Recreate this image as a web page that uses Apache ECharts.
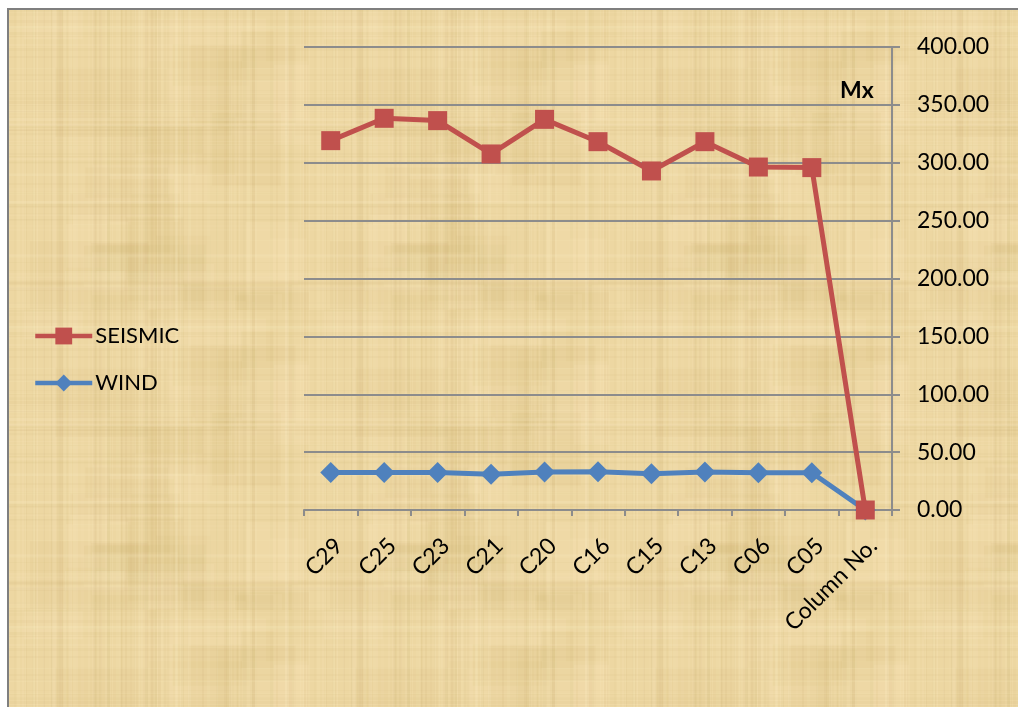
<!DOCTYPE html>
<html>
<head>
<meta charset="utf-8">
<script src="https://cdn.jsdelivr.net/npm/echarts@6/dist/echarts.min.js"></script>
<style>
  html, body { margin: 0; padding: 0; background: #ffffff; width: 1018px; height: 707px; overflow: hidden; }
  #frame { position: absolute; left: 7px; top: 8px; width: 1011px; height: 699px;
           border-left: 2px solid #7f7f7f; border-top: 2px solid #7f7f7f; box-sizing: border-box; }
  #chart { width: 1009px; height: 697px; }
</style>
</head>
<body>
<div id="frame"><div id="chart"></div></div>
<script>
// Column labels along the bottom axis
var categories = ['C29', 'C25', 'C23', 'C21', 'C20', 'C16', 'C15', 'C13', 'C06', 'C05', 'Column No.'];
// Moment Mx per column
var seismic = [319.1, 338.4, 336.4, 307.6, 337.5, 318.2, 292.9, 318.2, 296.3, 295.8, 0];
var wind = [32.5, 32.5, 32.3, 30.8, 32.8, 33.1, 31.4, 32.8, 32.2, 32.2, 0];
// Value axis range
var yMin = 0, yMax = 400, yStep = 50;

// Papyrus-like fibre texture used as the chart background
function papyrusTexture() {
  var size = 300;
  var c = document.createElement('canvas');
  c.width = size; c.height = size;
  var g = c.getContext('2d');
  g.fillStyle = '#edd7a2';
  g.fillRect(0, 0, size, size);
  function h(n) { var s = Math.sin(n * 12.9898) * 43758.5453; return s - Math.floor(s); }
  var i;
  // soft blotches
  for (i = 0; i < 40; i++) {
    var bx = h(i + 1001) * size, by = h(i + 1101) * size;
    var bw = 30 + h(i + 1201) * 90, bh = 20 + h(i + 1301) * 70;
    g.fillStyle = h(i + 1401) > 0.5 ? 'rgba(200,170,100,0.07)' : 'rgba(255,238,195,0.12)';
    g.fillRect(bx, by, bw, bh);
  }
  // vertical fibres
  for (i = 0; i < 110; i++) {
    var x = Math.floor(h(i + 1) * size);
    var w = 1 + Math.floor(h(i + 101) * 3);
    var dark = h(i + 201) > 0.5;
    g.fillStyle = dark ? 'rgba(190,160,95,' + (0.03 + h(i + 301) * 0.06) + ')'
                       : 'rgba(255,240,200,' + (0.06 + h(i + 401) * 0.1) + ')';
    g.fillRect(x, 0, w, size);
  }
  // horizontal fibres
  for (i = 0; i < 90; i++) {
    var y = Math.floor(h(i + 501) * size);
    var hh = 1 + Math.floor(h(i + 601) * 3);
    var dk = h(i + 701) > 0.5;
    g.fillStyle = dk ? 'rgba(190,160,95,' + (0.03 + h(i + 801) * 0.05) + ')'
                     : 'rgba(255,240,200,' + (0.05 + h(i + 901) * 0.08) + ')';
    g.fillRect(0, y, size, hh);
  }
  return c;
}

var chart = echarts.init(document.getElementById('chart'), null, { renderer: 'canvas' });
var font = 'Lato';
chart.setOption({
  backgroundColor: { image: papyrusTexture(), repeat: 'repeat' },
  animation: false,
  textStyle: { fontFamily: font },
  title: {
    text: 'Mx', left: 826, top: 64,
    textStyle: { fontFamily: font, fontSize: 23, fontWeight: 'bold', color: '#000' }
  },
  legend: {
    orient: 'vertical', left: 19, top: 310,
    itemWidth: 57, itemHeight: 21, itemGap: 25,
    data: ['SEISMIC', 'WIND'],
    lineStyle: { width: 4.5 },
    textStyle: { fontFamily: font, fontSize: 22, color: '#000', padding: [0, 0, 0, -2] }
  },
  grid: { left: 295, top: 37, width: 588, height: 463, containLabel: false },
  xAxis: {
    type: 'category', data: categories, boundaryGap: true,
    axisLine: { show: true, lineStyle: { color: '#8c8c8c', width: 2 } },
    axisTick: { show: true, length: 6, lineStyle: { color: '#8c8c8c', width: 2 } },
    axisLabel: { rotate: 45, margin: 24, verticalAlign: 'top', interval: 0,
                 fontFamily: font, fontSize: 23, color: '#000' },
    splitLine: { show: false }
  },
  yAxis: {
    type: 'value', position: 'right', min: yMin, max: yMax, interval: yStep,
    axisLine: { show: true, lineStyle: { color: '#8c8c8c', width: 2 } },
    axisTick: { show: true, inside: false, length: 8, lineStyle: { color: '#8c8c8c', width: 2 } },
    axisLabel: { margin: 25, fontFamily: font, fontSize: 23, color: '#000',
                 formatter: function (v) { return v.toFixed(2); } },
    splitLine: { show: true, lineStyle: { color: '#8c8c8c', width: 2 } }
  },
  series: [
    {
      name: 'SEISMIC', type: 'line', data: seismic, z: 4,
      symbol: 'rect', symbolSize: 19,
      lineStyle: { color: '#c0504d', width: 5, join: 'round' },
      itemStyle: { color: '#c0504d' }
    },
    {
      name: 'WIND', type: 'line', data: wind, z: 3,
      symbol: 'diamond', symbolSize: 21,
      lineStyle: { color: '#4f81bd', width: 5, join: 'round' },
      itemStyle: { color: '#4f81bd' }
    }
  ]
});
</script>
</body>
</html>
